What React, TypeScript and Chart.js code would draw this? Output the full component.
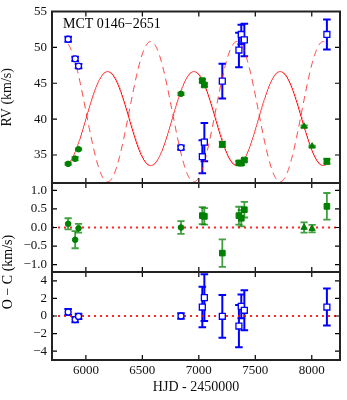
import React, { useEffect, useRef } from "react";
import { Chart, registerables } from "chart.js";
Chart.register(...registerables);

const W = 347;
const H = 400;
const FONT = '"Liberation Serif", "DejaVu Serif", serif';

// ---- Primary (green, filled) ----
const primaryHJD = [5843, 5905, 5935, 6842, 7031, 7049, 7208, 7355, 7376, 7403, 7932, 8003, 8134];
const primaryRV = [33.77, 34.49, 35.81, 43.53, 45.36, 44.76, 36.49, 33.9, 33.86, 34.3, 38.99, 36.22, 34.12];
const primaryErr = [0.15, 0.23, 0.12, 0.17, 0.23, 0.22, 0.37, 0.24, 0.22, 0.21, 0.14, 0.1, 0.36];
const primaryOC = [0.1, -0.33, -0.02, 0.0, 0.32, 0.3, -0.69, 0.32, 0.25, 0.48, 0.0, -0.03, 0.57];
const primaryMarker = ["circle", "circle", "circle", "circle", "rect", "rect", "rect", "rect", "rect", "rect", "triangle", "triangle", "rect"];

// ---- Secondary (blue, open) ----
const secondaryHJD = [5843, 5905, 5935, 6842, 7031, 7049, 7208, 7355, 7376, 7403, 8134];
const secondaryRV = [51.13, 48.4, 47.4, 36.03, 34.76, 36.8, 45.3, 49.63, 51.8, 51.04, 51.8];
const secondaryErr = [0.35, 0.3, 0.3, 0.3, 2.3, 2.66, 2.43, 2.4, 1.35, 2.27, 2.1];
const secondaryOC = [0.45, -0.4, -0.05, 0.0, 1.02, 2.09, -0.03, -1.14, 1.1, 0.65, 1.02];
const secondaryMarker = ["circle", "circle", "circle", "circle", "rect", "rect", "rect", "rect", "rect", "rect", "rect"];

// ---- Orbit model (fitted curves) ----
const orbitPeriod = 764;
const orbitT0 = 6192; // epoch of primary maximum
const gammaPrimary = 40.08;
const kPrimary = 6.55;
const gammaSecondary = 41.04;
const kSecondary = 9.78;
const modelStart = 5843;
const modelEnd = 8134;

// ---- Axes ----
const xRange = [5700, 8250];
const rvRange = [31.1, 55];
const ocPrimaryRange = [-1.2, 1.2];
const ocSecondaryRange = [-5, 5];
const xTicks = [6000, 6500, 7000, 7500, 8000];
const rvTicks = [35, 40, 45, 50, 55];
const ocPrimaryTicks = [-1.0, -0.5, 0.0, 0.5, 1.0];
const ocSecondaryTicks = [-4, -2, 0, 2, 4];

const GREEN = "#008000";
const BLUE = "#0000ff";

function modelCurve(gamma: number, k: number, sign: number) {
  const pts: { x: number; y: number }[] = [];
  for (let t = modelStart; t <= modelEnd; t += 3) {
    pts.push({ x: t, y: gamma + sign * k * Math.cos((2 * Math.PI * (t - orbitT0)) / orbitPeriod) });
  }
  return pts;
}

const minus = (s: string) => s.replace("-", "\u2212");

const frameTicksPlugin = {
  id: "frameTicks",
  afterDraw(chart: any, _args: any, opts: any) {
    const { ctx, chartArea: a, scales } = chart;
    ctx.save();
    ctx.strokeStyle = "#000";
    ctx.lineWidth = 1.2;
    const L = 5;
    ctx.beginPath();
    for (const v of xTicks) {
      const px = scales.x.getPixelForValue(v);
      ctx.moveTo(px, a.top);
      ctx.lineTo(px, a.top + L);
      ctx.moveTo(px, a.bottom);
      ctx.lineTo(px, a.bottom - L);
    }
    for (const v of opts.yTicks || []) {
      const py = scales.y.getPixelForValue(v);
      ctx.moveTo(a.left, py);
      ctx.lineTo(a.left + L, py);
      ctx.moveTo(a.right, py);
      ctx.lineTo(a.right - L, py);
    }
    ctx.stroke();
    ctx.lineWidth = 2;
    ctx.strokeStyle = "#222";
    ctx.strokeRect(a.left, a.top, a.right - a.left, a.bottom - a.top);
    ctx.restore();
  },
};

const errorBarPlugin = {
  id: "errorBars",
  beforeDatasetsDraw(chart: any) {
    const { ctx, chartArea: a, scales } = chart;
    ctx.save();
    ctx.beginPath();
    ctx.rect(a.left, a.top, a.right - a.left, a.bottom - a.top);
    ctx.clip();
    chart.data.datasets.forEach((ds: any) => {
      const eb = ds.errorBars;
      if (!eb) return;
      ctx.strokeStyle = eb.color;
      ctx.lineWidth = eb.width;
      ds.data.forEach((p: any, i: number) => {
        const e = eb.errors[i];
        const x = scales.x.getPixelForValue(p.x);
        const y1 = scales.y.getPixelForValue(p.y - e);
        const y2 = scales.y.getPixelForValue(p.y + e);
        ctx.beginPath();
        ctx.moveTo(x, y1);
        ctx.lineTo(x, y2);
        ctx.moveTo(x - eb.cap, y1);
        ctx.lineTo(x + eb.cap, y1);
        ctx.moveTo(x - eb.cap, y2);
        ctx.lineTo(x + eb.cap, y2);
        ctx.stroke();
      });
    });
    ctx.restore();
  },
};

const textPlugin = {
  id: "extraText",
  afterDraw(chart: any, _args: any, opts: any) {
    const { ctx } = chart;
    (opts.items || []).forEach((it: any) => {
      ctx.save();
      ctx.fillStyle = "#000";
      ctx.font = it.font;
      ctx.textAlign = it.align || "left";
      ctx.textBaseline = "middle";
      ctx.translate(it.x, it.y);
      if (it.rotate) ctx.rotate(it.rotate);
      ctx.fillText(it.text, 0, 0);
      ctx.restore();
    });
  },
};

function yScale(range: number[], ticks: number[], fmt: (v: number) => string, title?: string) {
  return {
    type: "linear",
    min: range[0],
    max: range[1],
    afterBuildTicks: (s: any) => {
      s.ticks = ticks.map((v) => ({ value: v }));
    },
    afterFit: (s: any) => {
      s.width = 52;
    },
    grid: { display: false, drawTicks: false },
    border: { display: false },
    ticks: {
      padding: 5,
      color: "#111",
      font: { family: FONT, size: 13, lineHeight: 1 },
      callback: (v: any) => fmt(Number(v)),
    },
    title: title
      ? { display: true, text: title, color: "#111", padding: 0, font: { family: FONT, size: 14, lineHeight: 1.05 } }
      : { display: false },
  };
}

function xScale(show: boolean) {
  return {
    type: "linear",
    display: show,
    min: xRange[0],
    max: xRange[1],
    afterBuildTicks: (s: any) => {
      s.ticks = xTicks.map((v) => ({ value: v }));
    },
    afterFit: (s: any) => {
      if (show) s.height = 40;
    },
    grid: { display: false, drawTicks: false },
    border: { display: false },
    ticks: {
      padding: 3,
      maxRotation: 0,
      autoSkip: false,
      color: "#111",
      font: { family: FONT, size: 13 },
      callback: (v: any) => String(v),
    },
    title: {
      display: show,
      text: "HJD - 2450000",
      color: "#111",
      padding: { top: 0, bottom: 4 },
      font: { family: FONT, size: 14 },
    },
  };
}

function points(xs: number[], ys: number[]) {
  return xs.map((x, i) => ({ x, y: ys[i] }));
}

function markerSize(styles: string[], circle: number, rect: number, tri: number) {
  return styles.map((s) => (s === "circle" ? circle : s === "rect" ? rect : tri));
}

function greenSet(ys: number[]) {
  return {
    data: points(primaryHJD, ys),
    pointStyle: primaryMarker,
    pointRadius: markerSize(primaryMarker, 2.8, 4.0, 3.6),
    backgroundColor: GREEN,
    borderColor: GREEN,
    borderWidth: 1,
    errorBars: { errors: primaryErr, color: "rgba(0,128,0,0.75)", width: 1.8, cap: 3.6 },
  };
}

function blueSet(ys: number[]) {
  return {
    data: points(secondaryHJD, ys),
    pointStyle: secondaryMarker,
    pointRadius: markerSize(secondaryMarker, 3.0, 4.2, 3.6),
    backgroundColor: "#ffffff",
    borderColor: BLUE,
    borderWidth: 1.3,
    errorBars: { errors: secondaryErr, color: BLUE, width: 2, cap: 3.8 },
  };
}

function zeroLine() {
  return {
    data: [
      { x: xRange[0], y: 0 },
      { x: xRange[1], y: 0 },
    ],
    showLine: true,
    pointRadius: 0,
    borderColor: "rgba(255,0,0,0.85)",
    borderWidth: 2,
    borderDash: [2, 4],
  };
}

function baseOptions(padding: any, scales: any, plugins: any) {
  return {
    responsive: false,
    animation: false,
    events: [],
    layout: { padding },
    scales,
    plugins: {
      legend: { display: false },
      tooltip: { enabled: false },
      ...plugins,
    },
  };
}

function topConfig(): any {
  return {
    type: "scatter",
    data: {
      datasets: [
        greenSet(primaryRV),
        blueSet(secondaryRV),
        {
          data: modelCurve(gammaPrimary, kPrimary, 1),
          showLine: true,
          pointRadius: 0,
          borderColor: "rgba(255,30,30,0.85)",
          borderWidth: 1,
        },
        {
          data: modelCurve(gammaSecondary, kSecondary, -1),
          showLine: true,
          pointRadius: 0,
          borderColor: "rgba(255,30,30,0.85)",
          borderWidth: 1,
          borderDash: [7, 5],
        },
      ],
    },
    options: baseOptions(
      { left: 0, right: 7, top: 7, bottom: 217 },
      { x: xScale(false), y: yScale(rvRange, rvTicks, (v) => String(v), "RV (km/s)") },
      {
        frameTicks: { yTicks: rvTicks },
        extraText: { items: [{ text: "MCT 0146\u22122651", x: 63, y: 24, font: `14px ${FONT}` }] },
      }
    ),
    plugins: [errorBarPlugin, frameTicksPlugin, textPlugin],
  };
}

function midConfig(): any {
  return {
    type: "scatter",
    data: { datasets: [greenSet(primaryOC), zeroLine()] },
    options: baseOptions(
      { left: 0, right: 7, top: 183, bottom: 128 },
      { x: xScale(false), y: yScale(ocPrimaryRange, ocPrimaryTicks, (v) => minus(v.toFixed(1))) },
      { frameTicks: { yTicks: ocPrimaryTicks } }
    ),
    plugins: [errorBarPlugin, frameTicksPlugin],
  };
}

function botConfig(): any {
  return {
    type: "scatter",
    data: { datasets: [blueSet(secondaryOC), zeroLine()] },
    options: baseOptions(
      { left: 0, right: 7, top: 272, bottom: 0 },
      { x: xScale(true), y: yScale(ocSecondaryRange, ocSecondaryTicks, (v) => minus(String(v))) },
      {
        frameTicks: { yTicks: ocSecondaryTicks },
        extraText: {
          items: [
            { text: "O \u2212 C (km/s)", x: 8.5, y: 272, font: `14px ${FONT}`, align: "center", rotate: -Math.PI / 2 },
          ],
        },
      }
    ),
    plugins: [errorBarPlugin, frameTicksPlugin, textPlugin],
  };
}

export default function App() {
  const r1 = useRef<HTMLCanvasElement>(null);
  const r2 = useRef<HTMLCanvasElement>(null);
  const r3 = useRef<HTMLCanvasElement>(null);

  useEffect(() => {
    const charts = [
      new Chart(r1.current as HTMLCanvasElement, topConfig()),
      new Chart(r2.current as HTMLCanvasElement, midConfig()),
      new Chart(r3.current as HTMLCanvasElement, botConfig()),
    ];
    return () => charts.forEach((c) => c.destroy());
  }, []);

  const cs: React.CSSProperties = { position: "absolute", left: 0, top: 0, width: W, height: H };
  return (
    <div style={{ position: "absolute", left: 0, top: 0, width: W, height: H, background: "#fff" }}>
      <canvas ref={r1} width={W} height={H} style={cs} />
      <canvas ref={r2} width={W} height={H} style={cs} />
      <canvas ref={r3} width={W} height={H} style={cs} />
    </div>
  );
}
